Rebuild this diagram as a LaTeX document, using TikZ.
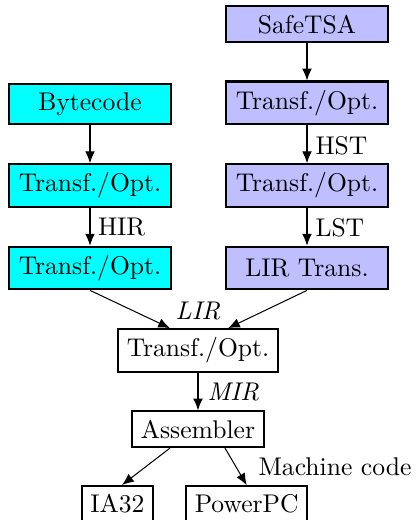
\documentclass[tikz,border=0pt]{standalone}
\usetikzlibrary{calc,arrows.meta}
\definecolor{bcfill}{RGB}{0,255,255}
\definecolor{stfill}{RGB}{191,191,255}
\begin{document}
\begin{tikzpicture}[x=0.390625pt,y=-0.390625pt,
  box/.style={draw,thick,inner sep=3.33pt},
  colbox/.style={box,minimum width=63.4pt},
  bc/.style={colbox,fill=bcfill},
  st/.style={colbox,fill=stfill},
  flow/.style={-{Latex[length=4.6pt,width=3.8pt]}},
  lab/.style={inner sep=0pt}]
\useasboundingbox (0,0) rectangle (418,520);
\clip (0,0) rectangle (418,520);

% SafeTSA column
\node[st] (safe) at (307,24.3) {SafeTSA};
\node[st] (r2) at (307,102.8) {Transf./Opt.};
\node[st] (r3) at (307,185.5) {Transf./Opt.};
\node[st,minimum height=16.67pt] (lirt) at (307,268) {LIR Trans.};

% Bytecode column
\node[bc] (byte) at (90,104.3) {Bytecode};
\node[bc] (l2) at (90,185.5) {Transf./Opt.};
\node[bc] (l3) at (90,268) {Transf./Opt.};

% shared back end
\node[box] (mid) at (198,350.5) {Transf./Opt.};
\node[box] (asm) at (198,429.2) {Assembler};
\node[box] (ia) at (117.5,504) {IA32};
\node[box] (ppc) at (246.7,504) {PowerPC};

% edge labels
\node[lab,anchor=west] (hir) at (97.5,227.5) {HIR};
\node[lab,anchor=west] (hst) at (315,145.5) {HST};
\node[lab,anchor=west] (lst) at (315,227.5) {LST};
\node[lab] (lir) at (198,311.5) {\textit{LIR}};
\node[lab,anchor=west] (mir) at (207,392.5) {\textit{MIR}};
\node[lab,anchor=west] (mc) at (258,466.7) {Machine code};

% connectors
\draw[flow] (safe) -- (r2);
\draw[flow] (r2) -- (r3);
\draw[flow] (r3) -- (lirt);
\draw[flow] (byte) -- (l2);
\draw[flow] (l2) -- (l3);
\draw[flow] (l3.south) -- ($(mid.north)+(-28,0)$);
\draw[flow] (lirt.south) -- ($(mid.north)+(30,0)$);
\draw[flow] (mid) -- (asm);
\draw[flow] ($(asm.south)+(-28,0)$) -- ($(ia.north)+(4.5,0)$);
\draw[flow] ($(asm.south)+(27,0)$) -- (ppc.north);
\end{tikzpicture}
\end{document}
